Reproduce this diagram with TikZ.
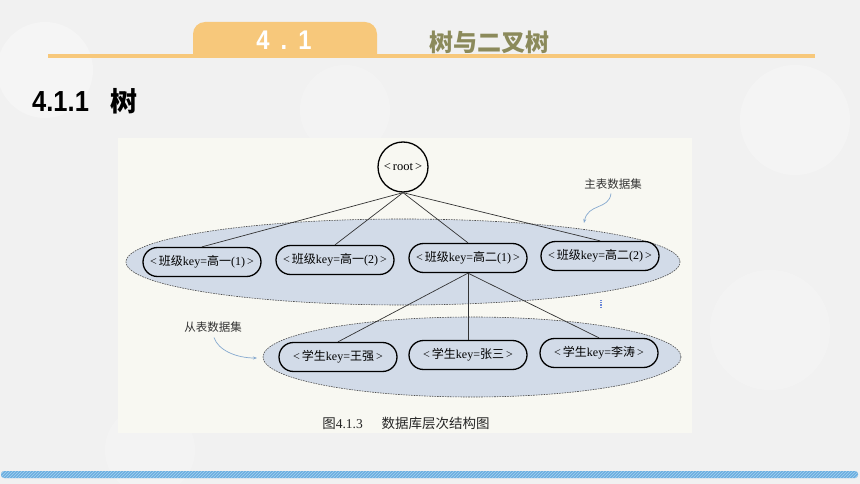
\documentclass[tikz,border=0pt]{standalone}
\usepackage{fontspec}
\usetikzlibrary{shapes.geometric,patterns,arrows.meta}
\setmainfont{Liberation Serif}
\newfontfamily\cjk{Noto Sans CJK SC}
\newfontfamily\hdfont[FakeStretch=0.88]{Liberation Sans}
\newcommand\zh[1]{{\cjk #1}}
\definecolor{bgc}{HTML}{F1F1F1}
\definecolor{orng}{HTML}{F7C87B}
\definecolor{olive}{HTML}{8B8A5B}
\definecolor{figbg}{HTML}{F8F8F2}
\definecolor{ellfill}{HTML}{D2DBE8}
\definecolor{arrblue}{HTML}{86A9CF}
\definecolor{bandblue}{HTML}{3A95D6}
\definecolor{bandlight}{HTML}{A8D2F0}
\begin{document}
\begin{tikzpicture}[x=1pt,y=-1pt,
  keybox/.style={draw=black, line width=1.3pt, rounded corners=14.5pt, minimum width=118pt, minimum height=29pt, inner sep=0pt, font=\fontsize{12}{14}\selectfont},
  rootbox/.style={draw=black, line width=1.3pt, circle, minimum size=50pt, inner sep=0pt, font=\fontsize{12.5}{14}\selectfont},
  setell/.style={ellipse, draw=black!70, dash pattern=on 1.6pt off 1pt, line width=0.6pt, fill=ellfill, inner sep=0pt},
  edge/.style={draw=black!80, line width=0.7pt},
  note/.style={font=\cjk\fontsize{11.5}{13}\selectfont, text=black!80, inner sep=0pt},
  notearrow/.style={draw=arrblue, line width=0.7pt, -{Stealth[length=4pt,width=3pt]}}
]
\useasboundingbox (0,0) rectangle (860,484);
% background
\fill[bgc] (0,0) rectangle (860,484);
\fill[white, opacity=0.3] (45,70) circle (48);
\fill[white, opacity=0.2] (345,110) circle (45);
\fill[white, opacity=0.25] (795,120) circle (55);
\fill[white, opacity=0.2] (770,330) circle (60);
\fill[white, opacity=0.2] (150,450) circle (45);
% header
\fill[orng] (193,57) [rounded corners=12pt] -- (193,22) -- (377,22) [sharp corners] -- (377,57) -- cycle;
\fill[orng] (48,54) rectangle (815,58);
\node[font=\hdfont\bfseries\fontsize{27}{30}\selectfont, text=white, inner sep=0pt] (secnum) at (284,40) {4\hspace{11pt}.\hspace{11pt}1};
\node[font=\cjk\bfseries\fontsize{24}{26}\selectfont, text=olive, inner sep=0pt] (sectitle) at (489,42) {树与二叉树};
\node[anchor=west, inner sep=0pt] (subtitle) at (32,101) {{\hdfont\bfseries\fontsize{29}{30}\selectfont 4.1.1}\hspace{22pt}{\cjk\bfseries\fontsize{27}{28}\selectfont 树}};
% figure area
\fill[figbg] (118,138) rectangle (692,433);
% sets
\node[setell, minimum width=554pt, minimum height=86pt] (mainset) at (403,262) {};
\node[setell, minimum width=418pt, minimum height=80pt] (subset) at (472,357) {};
% nodes
\node[rootbox] (root) at (403,167) {<\hspace{2pt}root\hspace{2pt}>};
\node[keybox] (c1) at (202,262) {<\hspace{2pt}\zh{班级}key=\zh{高一}(1)\hspace{2pt}>};
\node[keybox] (c2) at (335,260) {<\hspace{2pt}\zh{班级}key=\zh{高一}(2)\hspace{2pt}>};
\node[keybox] (c3) at (468,258) {<\hspace{2pt}\zh{班级}key=\zh{高二}(1)\hspace{2pt}>};
\node[keybox] (c4) at (600,256) {<\hspace{2pt}\zh{班级}key=\zh{高二}(2)\hspace{2pt}>};
\node[keybox] (s1) at (338,357) {<\hspace{2pt}\zh{学生}key=\zh{王强}\hspace{2pt}>};
\node[keybox] (s2) at (468,355) {<\hspace{2pt}\zh{学生}key=\zh{张三}\hspace{2pt}>};
\node[keybox] (s3) at (599,353) {<\hspace{2pt}\zh{学生}key=\zh{李涛}\hspace{2pt}>};
% edges
\foreach \c in {c1,c2,c3,c4} \draw[edge] (root.south) -- (\c.north);
\foreach \s in {s1,s2,s3} \draw[edge] (c3.south) -- (\s.north);
% labels
\node[note] (mainlbl) at (613,184) {主表数据集};
\node[note] (sublbl) at (213,327) {从表数据集};
\coordinate (mainend) at (584,223);
\coordinate (subend) at (257,358);
\draw[notearrow] (mainlbl.south) ++(-2,4) .. controls (609,210) and (588,203) .. (mainend);
\draw[notearrow] (sublbl.south) ++(1,5) .. controls (218,350) and (236,358) .. (subend);
\coordinate (mk) at (601,300);
\draw[arrblue!80!blue, line width=1.2pt, dash pattern=on 1.2pt off 1pt] (mk) -- ++(0,8);
% caption
\node[inner sep=0pt, font=\fontsize{13.5}{15}\selectfont, text=black!85] (cap) at (406,423) {\zh{图}4.1.3\hspace{1.4em}\zh{数据库层次结构图}};
% bottom band
\fill[bandblue!75, rounded corners=3pt] (1,471) rectangle (858,478);
\begin{scope}
\clip[rounded corners=3pt] (1,471) rectangle (858,478);
\fill[pattern=north east lines, pattern color=bandlight] (1,471) rectangle (858,478);
\end{scope}
\end{tikzpicture}
\end{document}
